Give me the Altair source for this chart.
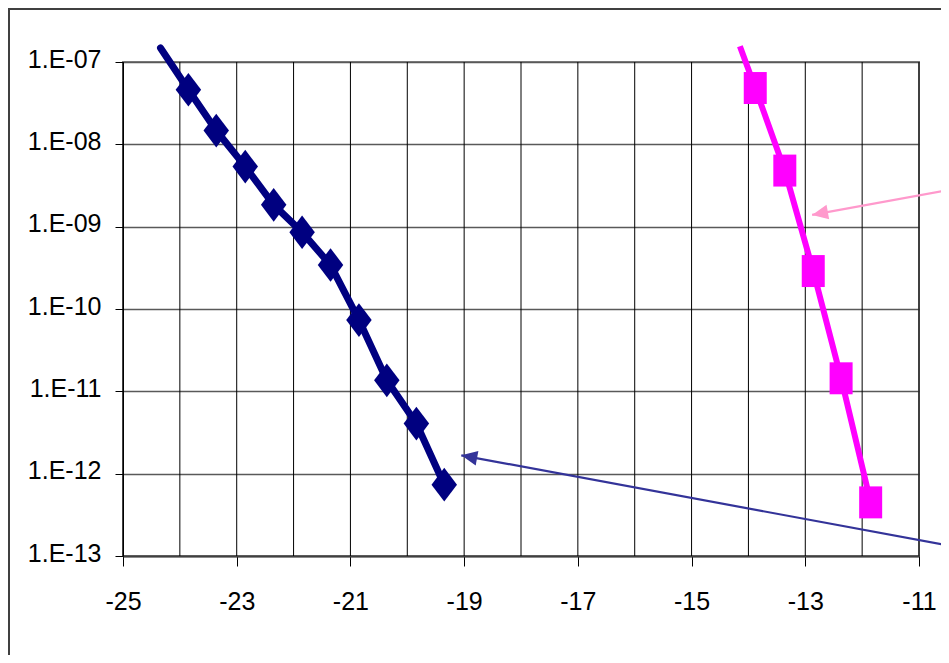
import altair as alt
import pandas as pd

# ---- data ----
navy_x = [-24.34, -23.85, -23.36, -22.85, -22.35, -21.85, -21.35, -20.85, -20.36, -19.84, -19.35]
navy_y = [1.48e-7, 4.6e-8, 1.47e-8, 5.37e-9, 1.84e-9, 8.55e-10, 3.42e-10, 7.33e-11, 1.36e-11, 4.06e-12, 7.35e-13]
navy_marker = [False, True, True, True, True, True, True, True, True, True, True]

pink_x = [-14.15, -13.88, -13.36, -12.86, -12.37, -11.85]
pink_y = [1.55e-7, 4.83e-8, 4.8e-9, 2.89e-10, 1.44e-11, 4.48e-13]
pink_marker = [False, True, True, True, True, True]

# annotation arrows: tail (off to the right) -> tip
arrow_name = ["navy", "pink"]
arrow_x_tail = [-10.53, -10.53]
arrow_y_tail = [1.36e-13, 2.74e-9]
arrow_x_tip = [-19.05, -12.88]
arrow_y_tip = [1.67e-12, 1.39e-9]
arrow_angle = [10.4, 349.7]

x_ticks = [-25, -23, -21, -19, -17, -15, -13, -11]
x_grid = list(range(-25, -10))
y_ticks = [1e-13, 1e-12, 1e-11, 1e-10, 1e-9, 1e-8, 1e-7]

FONT = "Liberation Sans, Arial, sans-serif"
FSIZE = 25

navy = pd.DataFrame({"x": navy_x, "y": navy_y, "m": navy_marker})
pink = pd.DataFrame({"x": pink_x, "y": pink_y, "m": pink_marker})
arrows = pd.DataFrame({"name": arrow_name, "x": arrow_x_tail, "y": arrow_y_tail,
                       "x2": arrow_x_tip, "y2": arrow_y_tip, "angle": arrow_angle})
grid = pd.DataFrame({"x": x_grid})
one = pd.DataFrame({"a": [0]})

xscale = alt.Scale(domain=[-25, -11], nice=False, zero=False)
yscale = alt.Scale(type="log", domain=[1e-13, 1e-7], nice=False)

xaxis = alt.Axis(values=x_ticks, title=None, grid=False, tickSize=10, labelFlush=False,
                 labelExpr="'' + datum.value",
                 tickColor="#000000", tickWidth=1, domainColor="#404040", domainWidth=2,
                 labelFont=FONT, labelFontSize=FSIZE, labelColor="#000000", labelPadding=23)
yaxis = alt.Axis(values=y_ticks, title=None, grid=True, gridColor="#595959", gridWidth=1.5,
                 tickSize=8, tickColor="#000000", domainColor="#000000", domainWidth=1,
                 labelFont=FONT, labelFontSize=FSIZE, labelColor="#000000", labelPadding=14,
                 labelOffset=-3, labelFlush=False,
                 labelExpr="'1.E-' + (abs(round(log(datum.value)/LN10)) < 10 ? '0' : '') + abs(round(log(datum.value)/LN10))")

X = alt.X("x:Q", scale=xscale, axis=xaxis)
Y = alt.Y("y:Q", scale=yscale, axis=yaxis)

vgrid = alt.Chart(grid).mark_rule(color="#000000", strokeWidth=1).encode(x=X)

navy_line = alt.Chart(navy).mark_line(color="#000080", strokeWidth=7, clip=False,
                                      strokeCap="round").encode(x=X, y=Y)
navy_pts = alt.Chart(navy).transform_filter("datum.m").mark_point(
    shape="M0,-1.32L1,0L0,1.32L-1,0Z", size=650, filled=True, opacity=1,
    color="#000080").encode(x=X, y=Y)

pink_line = alt.Chart(pink).mark_line(color="#FF00FF", strokeWidth=6, clip=False).encode(x=X, y=Y)
pink_pts = alt.Chart(pink).transform_filter("datum.m").mark_point(
    shape="M-1,-1.39H1V1.39H-1Z", size=529, filled=True, opacity=1,
    color="#FF00FF").encode(x=X, y=Y)

arrow_colors = alt.Scale(domain=arrow_name, range=["#333399", "#FF99CC"])
arrow_lines = alt.Chart(arrows).mark_rule(strokeWidth=2.2, clip=False).encode(
    x=X, y=Y, x2="x2:Q", y2="y2:Q",
    color=alt.Color("name:N", scale=arrow_colors, legend=None))
arrow_heads = alt.Chart(arrows).mark_point(
    shape="M0,0L2,-0.93L2,0.93Z", size=256, filled=True, opacity=1, clip=False).encode(
    x=alt.X("x2:Q", scale=xscale, axis=xaxis), y=alt.Y("y2:Q", scale=yscale, axis=yaxis),
    angle=alt.Angle("angle:Q", scale=None),
    color=alt.Color("name:N", scale=arrow_colors, legend=None))

frame_left = alt.Chart(one).mark_rule(color="#404040", strokeWidth=2, clip=False).encode(
    x=alt.value(-114), y=alt.value(-54), y2=alt.value(600))
frame_top = alt.Chart(one).mark_rule(color="#404040", strokeWidth=2, clip=False).encode(
    x=alt.value(-115), x2=alt.value(830), y=alt.value(-53))

chart = alt.layer(
    vgrid, navy_line, pink_line, navy_pts, pink_pts, arrow_lines, arrow_heads,
    frame_left, frame_top
).properties(
    width=796, height=494,
    padding={"left": 115, "top": 54, "right": 22, "bottom": 99},
    autosize=alt.AutoSizeParams(type="none"),
    background="#FFFFFF",
).configure_view(stroke="#808080", strokeWidth=2)

chart.save("out.html", embed_options={"renderer": "svg", "actions": False})
